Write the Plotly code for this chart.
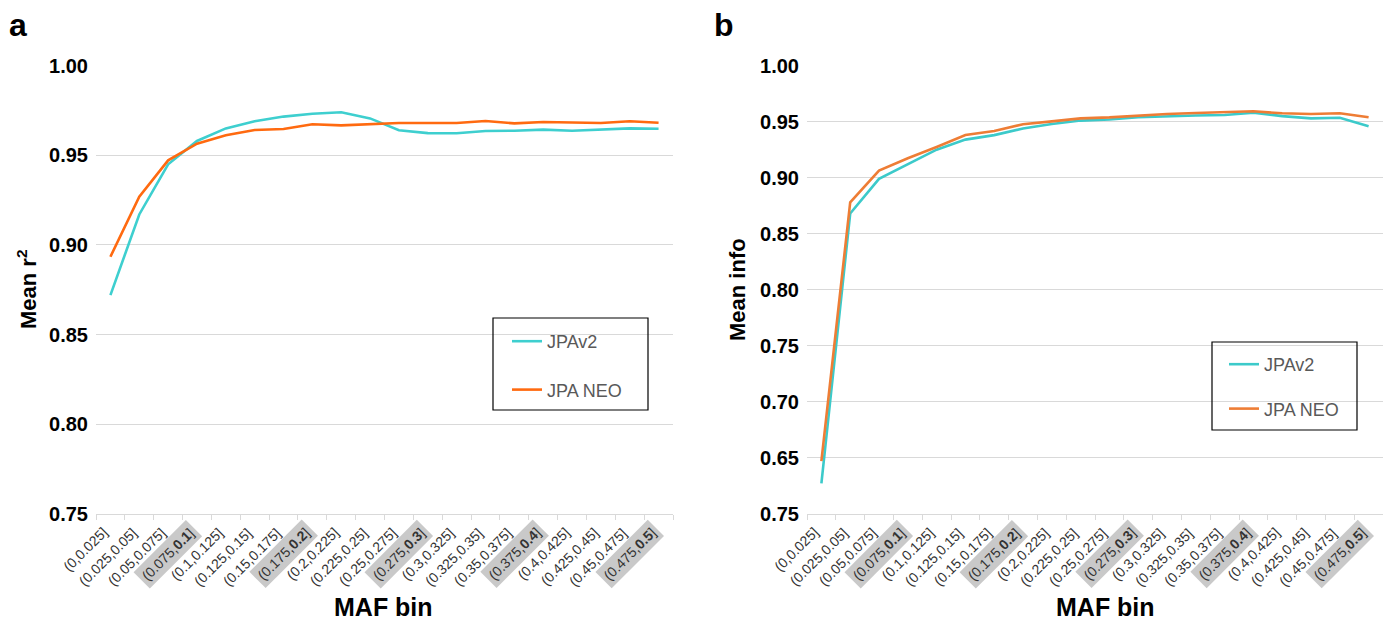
import plotly.graph_objects as go

categories = ["(0,0.025]", "(0.025,0.05]", "(0.05,0.075]", "(0.075,0.1]", "(0.1,0.125]",
              "(0.125,0.15]", "(0.15,0.175]", "(0.175,0.2]", "(0.2,0.225]", "(0.225,0.25]",
              "(0.25,0.275]", "(0.275,0.3]", "(0.3,0.325]", "(0.325,0.35]", "(0.35,0.375]",
              "(0.375,0.4]", "(0.4,0.425]", "(0.425,0.45]", "(0.45,0.475]", "(0.475,0.5]"]
highlighted = {"(0.075,0.1]": ("(0.075,", "0.1", "]"), "(0.175,0.2]": ("(0.175,", "0.2", "]"),
               "(0.275,0.3]": ("(0.275,", "0.3", "]"), "(0.375,0.4]": ("(0.375,", "0.4", "]"),
               "(0.475,0.5]": ("(0.475,", "0.5", "]")}

r2_jpav2 = [0.872, 0.917, 0.945, 0.958, 0.965, 0.969, 0.9716, 0.9732, 0.974, 0.9706,
            0.964, 0.9624, 0.9623, 0.9636, 0.9637, 0.9643, 0.9637, 0.9645, 0.965, 0.9648]
r2_neo = [0.8934, 0.9269, 0.9472, 0.9565, 0.9612, 0.9641, 0.9647, 0.9673, 0.9667, 0.9675,
          0.968, 0.968, 0.968, 0.9691, 0.9678, 0.9686, 0.9682, 0.968, 0.969, 0.9682]

info_jpav2 = [0.627, 0.868, 0.899, 0.912, 0.925, 0.934, 0.938, 0.944, 0.948, 0.951,
              0.952, 0.954, 0.955, 0.9555, 0.956, 0.958, 0.955, 0.953, 0.9535, 0.946]
info_neo = [0.647, 0.878, 0.9063, 0.9173, 0.9274, 0.9381, 0.9417, 0.9477, 0.9503, 0.953,
            0.9539, 0.9557, 0.9569, 0.9578, 0.9584, 0.9593, 0.9575, 0.9569, 0.9575, 0.9539]

r2_ticks = [0.75, 0.80, 0.85, 0.90, 0.95, 1.00]
r2_ticktext = ["0.75", "0.80", "0.85", "0.90", "0.95", "1.00"]
info_ticks = [0.60, 0.65, 0.70, 0.75, 0.80, 0.85, 0.90, 0.95, 1.00]
info_ticktext = ["0.75", "0.65", "0.70", "0.75", "0.80", "0.85", "0.90", "0.95", "1.00"]

W, H = 1383, 623
FONT = "Liberation Sans, Arial, sans-serif"

fig = go.Figure()
fig.add_trace(go.Scatter(x=categories, y=r2_jpav2, mode="lines", name="JPAv2",
                         line=dict(color="#3ECFCF", width=2.6), xaxis="x", yaxis="y",
                         legend="legend", legendgroup="a1"))
fig.add_trace(go.Scatter(x=categories, y=r2_neo, mode="lines", name="JPA NEO",
                         line=dict(color="#FF6A10", width=2.6), xaxis="x", yaxis="y",
                         legend="legend", legendgroup="a2"))
fig.add_trace(go.Scatter(x=categories, y=info_jpav2, mode="lines", name="JPAv2",
                         line=dict(color="#3CCACA", width=2.6), xaxis="x2", yaxis="y2",
                         legend="legend2", legendgroup="b1"))
fig.add_trace(go.Scatter(x=categories, y=info_neo, mode="lines", name="JPA NEO",
                         line=dict(color="#EE7D35", width=2.6), xaxis="x2", yaxis="y2",
                         legend="legend2", legendgroup="b2"))

def px(xp):
    return xp / W

def py(yp):
    return 1 - yp / H

y_dom = [py(513.7), py(65.7)]
xa_dom = [px(96), px(673)]
xb_dom = [px(807), 1.0]

xcommon = dict(type="category", categoryorder="array", categoryarray=categories,
               showticklabels=False, showgrid=False, showline=True, linecolor="#d9d9d9",
               linewidth=1, ticks="outside", tickson="boundaries", ticklen=5,
               tickcolor="#d9d9d9", zeroline=False, fixedrange=True, automargin=False)
ycommon = dict(showgrid=True, gridcolor="#d9d9d9", gridwidth=1, zeroline=False,
               showline=False, ticks="", automargin=False,
               tickfont=dict(family=FONT, size=20, color="#000000", weight="bold"),
               ticklabelstandoff=7)

fig.update_layout(
    width=W, height=H, autosize=False,
    margin=dict(l=0, r=0, t=0, b=0, pad=0),
    paper_bgcolor="white", plot_bgcolor="white",
    xaxis=dict(domain=xa_dom, anchor="y", range=[-0.5, 19.5], **xcommon),
    yaxis=dict(domain=y_dom, anchor="x", range=[0.75, 1.0], tickvals=r2_ticks,
               ticktext=r2_ticktext, **ycommon),
    xaxis2=dict(domain=xb_dom, anchor="y2", range=[-0.5, 19.5], **xcommon),
    yaxis2=dict(domain=y_dom, anchor="x2", range=[0.60, 1.0], tickvals=info_ticks,
                ticktext=info_ticktext, **ycommon),
    legend=dict(x=px(507), y=py(323), xanchor="left", yanchor="top",
                font=dict(family=FONT, size=18, color="#595959"),
                bgcolor="rgba(0,0,0,0)", borderwidth=0, tracegroupgap=22,
                itemwidth=30),
    legend2=dict(x=px(1224), y=py(346), xanchor="left", yanchor="top",
                 font=dict(family=FONT, size=18, color="#595959"),
                 bgcolor="rgba(0,0,0,0)", borderwidth=0, tracegroupgap=18,
                 itemwidth=30),
    showlegend=True,
)

shapes = [
    dict(type="rect", xref="paper", yref="paper", x0=px(493), x1=px(648), y0=py(410), y1=py(318),
         line=dict(color="#000000", width=1.2), fillcolor="rgba(0,0,0,0)"),
    dict(type="rect", xref="paper", yref="paper", x0=px(1212), x1=px(1357), y0=py(430), y1=py(342),
         line=dict(color="#000000", width=1.2), fillcolor="rgba(0,0,0,0)"),
]
fig.update_layout(shapes=shapes)

annotations = []
for xref, yref in (("x", "y domain"), ("x2", "y2 domain")):
    for c in categories:
        if c in highlighted:
            a, b, e = highlighted[c]
            txt = f"{a}<b>{b}</b>{e}"
            bg = "#c9c9c9"
        else:
            txt = c
            bg = "rgba(0,0,0,0)"
        annotations.append(dict(x=c, y=0, xref=xref, yref=yref, text=txt, showarrow=False,
                                textangle=-45, xanchor="right", yanchor="top",
                                xshift=6, yshift=-5, bgcolor=bg, borderpad=3,
                                font=dict(family=FONT, size=14, color="#333333")))

annotations += [
    dict(x=px(18), y=py(25), xref="paper", yref="paper", text="<b>a</b>", showarrow=False,
         xanchor="center", yanchor="middle", font=dict(family=FONT, size=32, color="black")),
    dict(x=px(724), y=py(25), xref="paper", yref="paper", text="<b>b</b>", showarrow=False,
         xanchor="center", yanchor="middle", font=dict(family=FONT, size=32, color="black")),
    dict(x=px(27), y=py(290), xref="paper", yref="paper", text="<b>Mean r<sup>2</sup></b>",
         showarrow=False, textangle=-90, xanchor="center", yanchor="middle",
         font=dict(family=FONT, size=22, color="black")),
    dict(x=px(737), y=py(290), xref="paper", yref="paper", text="<b>Mean info</b>",
         showarrow=False, textangle=-90, xanchor="center", yanchor="middle",
         font=dict(family=FONT, size=22, color="black")),
    dict(x=px(383), y=py(607), xref="paper", yref="paper", text="<b>MAF bin</b>",
         showarrow=False, xanchor="center", yanchor="middle",
         font=dict(family=FONT, size=25, color="black")),
    dict(x=px(1105), y=py(607), xref="paper", yref="paper", text="<b>MAF bin</b>",
         showarrow=False, xanchor="center", yanchor="middle",
         font=dict(family=FONT, size=25, color="black")),
]
fig.update_layout(annotations=annotations)

fig.write_html("out.html", config={"displayModeBar": False},
               post_script="document.body.style.margin='0';document.body.style.padding='0';")
